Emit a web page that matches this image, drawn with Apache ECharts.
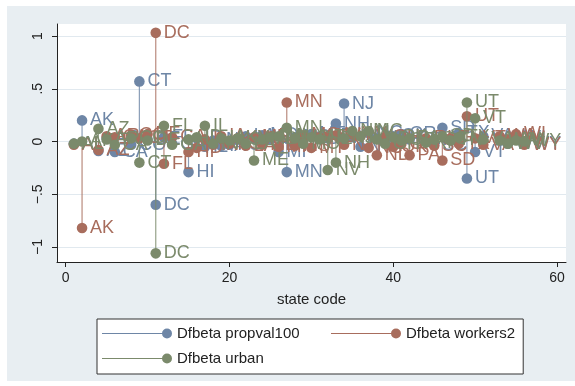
<!DOCTYPE html>
<html>
<head>
<meta charset="utf-8">
<script src="https://cdn.jsdelivr.net/npm/echarts@6/dist/echarts.min.js"></script>
<style>
  html, body { margin: 0; padding: 0; background: #fff; }
  #chart { width: 575px; height: 386px; }
</style>
</head>
<body>
<div id="chart"></div>
<script>
// state abbreviations and their FIPS state codes (x axis)
const states = ['AL','AK','AZ','AR','CA','CO','CT','DE','DC','FL','GA','HI','ID','IL','IN','IA','KS','KY','LA','ME',
  'MD','MA','MI','MN','MS','MO','MT','NE','NV','NH','NJ','NM','NY','NC','ND','OH','OK','OR','PA','RI',
  'SC','SD','TN','TX','UT','VT','VA','WA','WV','WI','WY'];
const stateCodes = [1,2,4,5,6,8,9,10,11,12,13,15,16,17,18,19,20,21,22,23,
  24,25,26,27,28,29,30,31,32,33,34,35,36,37,38,39,40,41,42,44,
  45,46,47,48,49,50,51,53,54,55,56];

// dfbeta values
const dfPropval = [-0.02,0.20,-0.09,0.03,-0.10,-0.03,0.57,0.02,-0.60,0.04,-0.02,-0.29,0.03,-0.05,0.01,-0.04,-0.03,0.02,0.05,0.03,
  0.06,0.02,-0.10,-0.29,0.04,0.02,0.07,0.05,0.03,0.17,0.36,0.04,-0.05,0.08,0.03,0.02,0.05,0.07,0.02,0.01,
  -0.03,0.13,0.02,0.08,-0.35,-0.10,0.05,0.04,-0.02,0.03,-0.02];
const dfWorkers = [-0.03,-0.82,-0.08,0.05,0.04,0.06,0.03,0.07,1.03,-0.21,0.04,-0.10,-0.06,0.02,-0.03,0.05,-0.02,0.03,-0.04,0.04,
  -0.03,0.05,-0.05,0.37,-0.04,0.06,-0.06,0.04,0.05,0.06,-0.03,0.07,0.05,-0.06,-0.13,0.04,-0.05,-0.02,-0.13,0.03,
  -0.04,-0.18,0.03,-0.02,0.24,0.03,-0.03,0.05,0.02,0.07,-0.03];
const dfUrban = [-0.02,0.00,0.12,0.02,-0.03,0.03,-0.20,0.01,-1.06,0.15,-0.03,0.02,0.04,0.15,-0.02,0.03,0.01,0.03,-0.02,-0.18,
  0.02,0.04,0.05,0.13,0.03,-0.02,0.04,0.02,-0.27,-0.20,0.03,0.10,0.05,0.10,0.02,-0.02,0.04,0.01,0.03,-0.01,
  0.02,0.05,0.01,0.04,0.37,0.22,0.02,0.01,-0.02,0.01,0.00];

const seriesNames = ['Dfbeta propval100', 'Dfbeta workers2', 'Dfbeta urban'];
const seriesColors = ['#6e86a6', '#a86d5d', '#7b8a6b'];
const xTicks = [0, 20, 40, 60];
const yTicks = [-1, -0.5, 0, 0.5, 1];

const FONT = '"Liberation Sans", Arial, Helvetica, sans-serif';

function fmtY(v) {
  if (v === 0) return '0';
  let s = String(Math.abs(v)).replace(/^0/, '');
  return (v < 0 ? '\u2212' : '') + s;
}

function makeSeries(name, values, color) {
  return {
    name: name,
    type: 'custom',
    itemStyle: { color: color },
    data: values.map((v, i) => [stateCodes[i], v, states[i]]),
    renderItem: function (params, api) {
      const x = api.value(0), y = api.value(1);
      const p0 = api.coord([x, 0]);
      const p1 = api.coord([x, y]);
      const lab = states[params.dataIndex];
      return {
        type: 'group',
        children: [
          { type: 'line', shape: { x1: p0[0], y1: p0[1], x2: p1[0], y2: p1[1] },
            style: { stroke: color, lineWidth: 1.2, opacity: 0.8 } },
          { type: 'circle', shape: { cx: p1[0], cy: p1[1], r: 5.3 }, style: { fill: color } },
          { type: 'text', x: p1[0] + 8, y: p1[1],
            style: { text: lab, fill: color, font: '18px ' + FONT, align: 'left', verticalAlign: 'middle' } }
        ]
      };
    }
  };
}

const chart = echarts.init(document.getElementById('chart'));
chart.setOption({
  backgroundColor: '#ffffff',
  animation: false,
  textStyle: { fontFamily: FONT },
  graphic: [{
    type: 'rect', z: -10, silent: true,
    shape: { x: 7, y: 6, width: 568, height: 375 },
    style: { fill: '#e8eef2' }
  }],
  grid: {
    left: 57, right: 9, top: 24, bottom: 124,
    show: true, backgroundColor: '#ffffff', borderWidth: 0
  },
  xAxis: {
    type: 'value', min: -1.06, max: 61.1,
    name: 'state code', nameLocation: 'middle', nameGap: 30,
    nameTextStyle: { fontSize: 15, color: '#222', fontFamily: FONT },
    axisLine: { show: true, onZero: false, lineStyle: { color: '#222', width: 1 } },
    axisTick: { show: true, length: 5, customValues: xTicks, lineStyle: { color: '#222' } },
    axisLabel: { customValues: xTicks, margin: 9, fontSize: 14, color: '#222', fontFamily: FONT },
    splitLine: { show: false }
  },
  yAxis: {
    type: 'value', min: -1.142, max: 1.114,
    axisLine: { show: true, onZero: false, lineStyle: { color: '#222', width: 1 } },
    axisTick: { show: true, length: 5, customValues: yTicks, lineStyle: { color: '#222' } },
    axisLabel: { customValues: yTicks, rotate: 90, margin: 12, fontSize: 14, color: '#222',
      fontFamily: FONT, formatter: fmtY },
    splitLine: { show: true, lineStyle: { color: '#e1e9ef', width: 1 } }
  },
  legend: {
    left: 97, top: 319, width: 420,
    padding: [7, 8, 8, 5],
    itemWidth: 70, itemHeight: 10, itemGap: 10,
    backgroundColor: '#ffffff', borderColor: '#333', borderWidth: 1,
    icon: 'path://M0,4.5L62,4.5L62,5.5L0,5.5Z M60,5A5,5,0,1,1,70,5A5,5,0,1,1,60,5Z',
    textStyle: { fontSize: 15, color: '#222', fontFamily: FONT, lineHeight: 15 },
    data: [
      { name: seriesNames[0], textStyle: { width: 144 } },
      { name: seriesNames[1] },
      { name: seriesNames[2] }
    ]
  },
  series: [
    makeSeries(seriesNames[0], dfPropval, seriesColors[0]),
    makeSeries(seriesNames[1], dfWorkers, seriesColors[1]),
    makeSeries(seriesNames[2], dfUrban, seriesColors[2])
  ]
});
</script>
</body>
</html>
